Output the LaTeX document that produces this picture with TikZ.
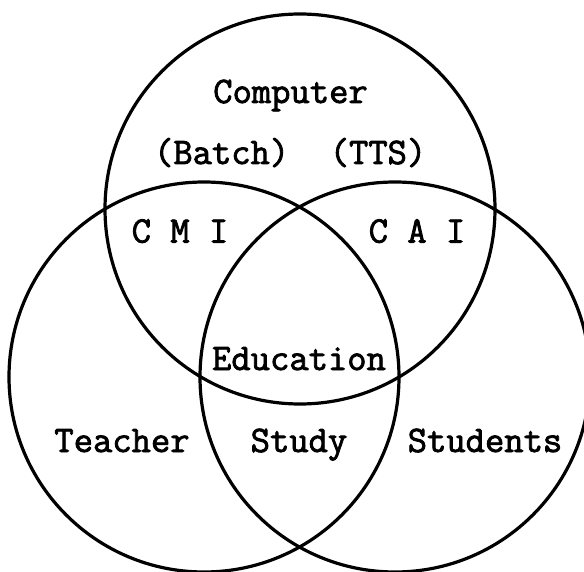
\documentclass[tikz,border=0pt]{standalone}
\newcommand{\heavytext}[1]{\special{pdf:literal direct 2 Tr 0.8 w}#1\special{pdf:literal direct 0 Tr}}
\begin{document}
\begin{tikzpicture}[x=1pt,y=-1pt,
  ring/.style={circle, draw, line width=3.2pt, minimum size=390pt, inner sep=0pt},
  lab/.style={font=\fontsize{37.5}{40}\selectfont\ttfamily, anchor=base, inner sep=0pt}]
\useasboundingbox (0,0) rectangle (584,572);
\node[ring] (topc) at (300,209) {};
\node[ring] (leftc) at (204,377) {};
\node[ring] (rightc) at (395,377) {};
\node[lab] (comp) at (290.5,103) {\heavytext{Computer}};
\node[lab] (batch) at (221.6,164) {\heavytext{(Batch)}};
\node[lab] (tts) at (378,164) {\heavytext{(TTS)}};
\node[lab] (cmi) at (180,242.6) {\heavytext{C M I}};
\node[lab] (cai) at (417,242.6) {\heavytext{C A I}};
\node[lab] (edu) at (299,370) {\heavytext{Education}};
\node[lab] (teach) at (122,452) {\heavytext{Teacher}};
\node[lab] (study) at (299,452) {\heavytext{Study}};
\node[lab] (stud) at (485,452) {\heavytext{Students}};
\end{tikzpicture}
\end{document}
